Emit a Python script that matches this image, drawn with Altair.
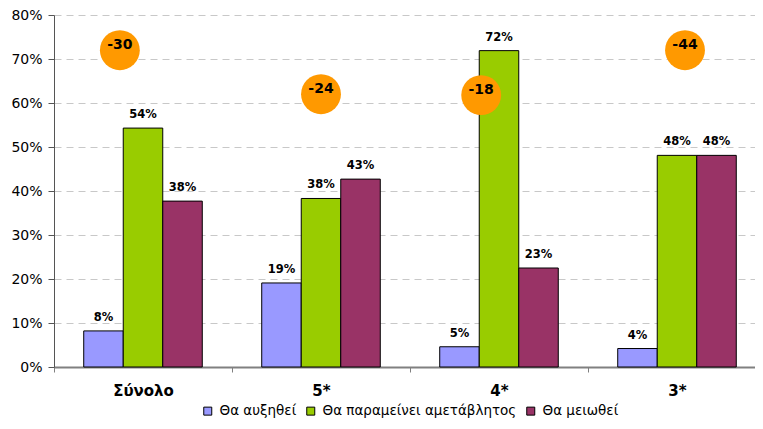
import altair as alt
import pandas as pd

categories = ["Σύνολο", "5*", "4*", "3*"]
series = ["Θα αυξηθεί", "Θα παραμείνει αμετάβλητος", "Θα μειωθεί"]
increase = [0.082, 0.191, 0.046, 0.042]
same = [0.543, 0.383, 0.719, 0.481]
decrease = [0.377, 0.427, 0.225, 0.481]
balance = ["-30", "-24", "-18", "-44"]
# balance bubble placement: y on value axis, x in category units (group i centre = i + 0.5)
balance_y = [0.72, 0.62, 0.618, 0.72]
balance_x = [0.37, 1.5, 2.4, 3.545]
colors = ["#9999FF", "#99CC00", "#993366"]

rows = []
for i, c in enumerate(categories):
    for s, vals in zip(series, [increase, same, decrease]):
        rows.append({"cat": c, "series": s, "value": vals[i]})
df = pd.DataFrame(rows)
bal = pd.DataFrame({"label": balance, "y": balance_y, "x": balance_x})

FONT = "DejaVu Sans"
W, H = 701, 352
XR = 712  # category axis runs slightly past the visible page edge, as in the original
STEP = XR / len(categories)
xscale = alt.Scale(domain=categories, paddingInner=0.334, paddingOuter=0.167, range=[0, XR])
yscale = alt.Scale(domain=[0, 0.8], nice=False)
xq = alt.Scale(domain=[0, len(categories)], nice=False, zero=False, range=[0, XR])

x_enc = alt.X("cat:N", sort=categories, scale=xscale, title=None,
              axis=alt.Axis(labelAngle=0, labelFont=FONT, labelFontSize=15,
                            labelFontWeight="bold", labelColor="black",
                            ticks=True, tickSize=5, tickColor="#808080",
                            tickOffset=-STEP / 2, labelOffset=STEP / 2,
                            domainColor="#808080", domainWidth=2,
                            labelPadding=11))
y_enc = alt.Y("value:Q", scale=yscale, title=None,
              axis=alt.Axis(format=".0%", values=[i / 10 for i in range(9)],
                            labelFont=FONT, labelFontSize=14, labelColor="black",
                            grid=True, gridDash=[7, 5], gridColor="#c8c8c8",
                            domainColor="#555555", tickColor="#555555",
                            tickSize=6, labelPadding=6))

bars = alt.Chart(df).mark_bar(stroke="black", strokeWidth=1).encode(
    x=x_enc,
    xOffset=alt.XOffset("series:N", sort=series),
    y=y_enc,
    color=alt.Color("series:N", sort=series,
                    scale=alt.Scale(domain=series, range=colors),
                    legend=alt.Legend(title=None, orient="none", direction="horizontal",
                                      legendX=147, legendY=389, labelFont=FONT,
                                      labelFontSize=13.5, labelColor="black",
                                      labelLimit=400, labelOffset=5,
                                      symbolType="square", symbolStrokeColor="black",
                                      symbolStrokeWidth=1, symbolSize=64,
                                      columnPadding=7, symbolOpacity=1)),
)

labels = alt.Chart(df).mark_text(font=FONT, fontSize=11.5, fontWeight="bold",
                                 dy=-13, color="black").encode(
    x=alt.X("cat:N", sort=categories, scale=xscale),
    xOffset=alt.XOffset("series:N", sort=series),
    y=alt.Y("value:Q", scale=yscale),
    text=alt.Text("value:Q", format=".0%"),
)

base = alt.layer(bars, labels)

circles = alt.Chart(bal).mark_circle(color="#FF9900", opacity=1, size=1590).encode(
    x=alt.X("x:Q", scale=xq, axis=None),
    y=alt.Y("y:Q", scale=yscale),
)
ctext = alt.Chart(bal).mark_text(font=FONT, fontSize=14, fontWeight="bold",
                                 color="black", dy=-5).encode(
    x=alt.X("x:Q", scale=xq, axis=None),
    y=alt.Y("y:Q", scale=yscale),
    text="label:N",
)
bubbles = alt.layer(circles, ctext)

chart = alt.layer(base, bubbles).resolve_scale(x="independent").properties(
    width=W, height=H,
    autosize=alt.AutoSizeParams(type="none"),
    padding={"left": 46, "top": 7, "right": 0, "bottom": 53},
).configure_view(stroke=None).configure_axisY(domainWidth=1)

chart.save("out.html", embed_options={"renderer": "svg", "actions": False})
